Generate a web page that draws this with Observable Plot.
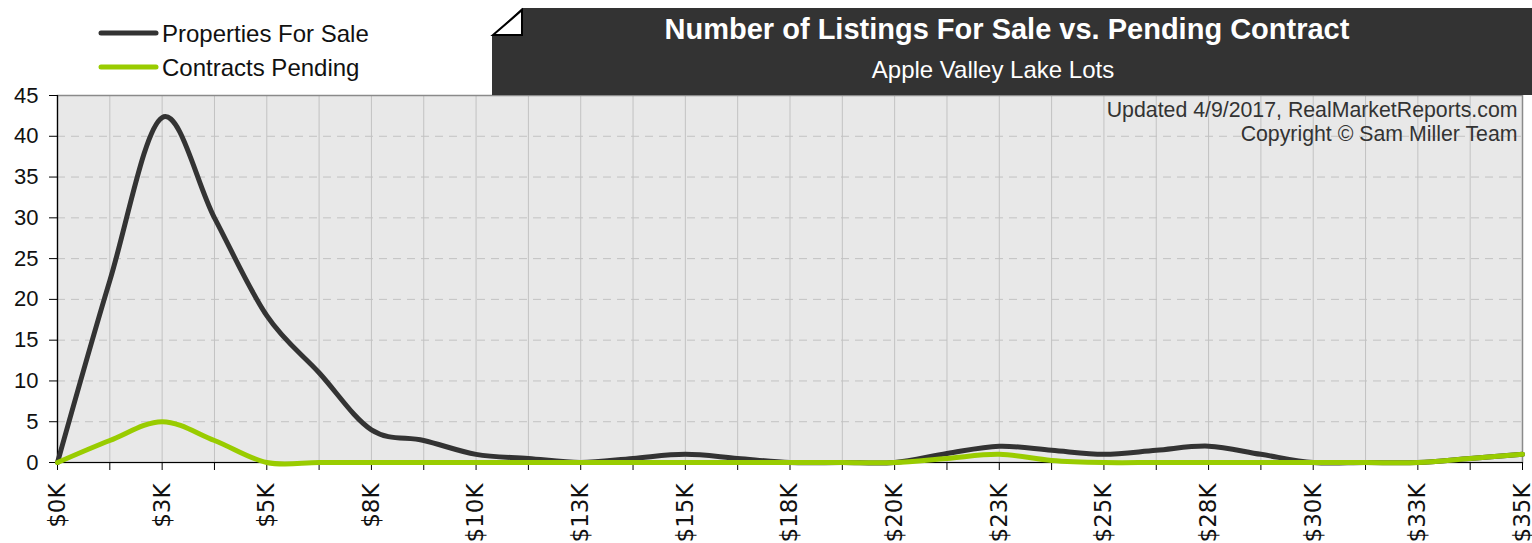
<!DOCTYPE html>
<html>
<head>
<meta charset="utf-8">
<script src="https://cdn.jsdelivr.net/npm/d3@7"></script>
<script src="https://cdn.jsdelivr.net/npm/@observablehq/plot@0.6"></script>
<style>
  html, body { margin: 0; padding: 0; background: #fff; }
  #wrap { position: relative; width: 1532px; height: 543px; overflow: hidden; }
  #header { position: absolute; left: 0; top: 0; }
  #chart { position: absolute; left: 0; top: 0; }
</style>
</head>
<body>
<div id="wrap">
  <div id="chart"></div>
  <svg id="header" width="1532" height="96" xmlns="http://www.w3.org/2000/svg"></svg>
</div>
<script>
// ---- data ----
const prices = [0, 1.25, 2.5, 3.75, 5, 6.25, 7.5, 8.75, 10, 11.25, 12.5, 13.75, 15, 16.25, 17.5,
                18.75, 20, 21.25, 22.5, 23.75, 25, 26.25, 27.5, 28.75, 30, 31.25, 32.5, 33.75, 35];
const forSale = [0, 22.3, 42.3, 30, 18, 11, 4, 2.7, 1, 0.5, 0, 0.5, 1, 0.5, 0,
                 0, 0, 1.1, 2, 1.5, 1, 1.5, 2, 1, 0, 0, 0, 0.5, 1];
const pending = [0, 2.7, 5, 2.7, 0, 0, 0, 0, 0, 0, 0, 0, 0, 0, 0,
                 0, 0, 0.5, 1, 0.25, 0, 0, 0, 0, 0, 0, 0, 0.5, 1];
const labelPrices = [0, 2.5, 5, 7.5, 10, 12.5, 15, 17.5, 20, 22.5, 25, 27.5, 30, 32.5, 35];
const tickLabels = ["$0K", "$3K", "$5K", "$8K", "$10K", "$13K", "$15K", "$18K", "$20K",
                    "$23K", "$25K", "$28K", "$30K", "$33K", "$35K"];
const yTicks = [0, 5, 10, 15, 20, 25, 30, 35, 40, 45];
const seriesNames = ["Properties For Sale", "Contracts Pending"];
const seriesColors = ["#333333", "#99cc00"];
const titleText = "Number of Listings For Sale vs. Pending Contract";
const subtitleText = "Apple Valley Lake Lots";
const noteLines = ["Updated 4/9/2017, RealMarketReports.com", "Copyright \u00A9 Sam Miller Team"];

const saleRows = prices.map((p, i) => ({price: p, value: forSale[i]}));
const pendRows = prices.map((p, i) => ({price: p, value: pending[i]}));

const sans = "'Liberation Sans', Arial, sans-serif";

const chart = Plot.plot({
  width: 1532,
  height: 543,
  marginLeft: 57,
  marginRight: 10,
  marginTop: 95,
  marginBottom: 81,
  x: {domain: [0, 35]},
  y: {domain: [0, 45]},
  style: {fontFamily: sans, color: "#111", background: "transparent", overflow: "visible"},
  marks: [
    Plot.frame({fill: "#e8e8e8", stroke: null}),
    Plot.gridX(prices, {stroke: "#c2c2c2", strokeOpacity: 1, strokeWidth: 1}),
    Plot.gridY(yTicks.filter(d => d > 0), {stroke: "#c2c2c2", strokeOpacity: 1, strokeWidth: 1, strokeDasharray: "8,6"}),
    Plot.frame({stroke: "#8a8a8a", strokeWidth: 1.5, fill: null}),
    Plot.ruleX([0], {stroke: "#000", strokeWidth: 1.2}),
    Plot.ruleY([0], {stroke: "#000", strokeWidth: 1.2}),
    Plot.axisY(yTicks, {tickSize: 8, tickPadding: 11, fontSize: 22, label: null, stroke: "#000", fill: "#111"}),
    Plot.axisX(prices, {tickSize: 8, tickFormat: () => "", label: null, stroke: "#000"}),
    Plot.axisX(labelPrices, {
      tickSize: 0, tickPadding: 21, tickRotate: -90, label: null,
      tickFormat: d => tickLabels[labelPrices.indexOf(d)],
      fontFamily: "'DejaVu Sans', sans-serif", fontSize: 23, fill: "#111"
    }),
    Plot.line(saleRows, {x: "price", y: "value", stroke: seriesColors[0], strokeWidth: 5, curve: "cardinal", tension: 0}),
    Plot.line(pendRows, {x: "price", y: "value", stroke: seriesColors[1], strokeWidth: 5, curve: "cardinal", tension: 0}),
    Plot.text([noteLines.join("\n")], {
      frameAnchor: "top-right", textAnchor: "end", lineAnchor: "top",
      dx: -5, dy: 5, fontSize: 21.3, lineHeight: 1.12, fill: "#333", fontFamily: sans
    })
  ]
});
document.getElementById("chart").appendChild(chart);

// ---- header: legend + title box ----
const hdr = d3.select("#header");
const legendY = [33, 67];
seriesNames.forEach((name, i) => {
  hdr.append("line").attr("x1", 101).attr("x2", 156).attr("y1", legendY[i]).attr("y2", legendY[i])
    .attr("stroke", seriesColors[i]).attr("stroke-width", 5).attr("stroke-linecap", "round");
  hdr.append("text").attr("x", 162).attr("y", legendY[i] + 9)
    .attr("font-family", sans).attr("font-size", 24).attr("fill", "#111").text(name);
});
hdr.append("path").attr("d", "M492,36 L522,8 L1532,8 L1532,95 L492,95 Z").attr("fill", "#333333");
hdr.append("path").attr("d", "M493,35 L522,10 L522,35 Z").attr("fill", "#fff")
  .attr("stroke", "#000").attr("stroke-width", 2).attr("stroke-linejoin", "miter");
hdr.append("text").attr("x", 1007).attr("y", 39).attr("text-anchor", "middle")
  .attr("font-family", sans).attr("font-weight", "bold").attr("font-size", 29).attr("fill", "#fff")
  .text(titleText);
hdr.append("text").attr("x", 993).attr("y", 78).attr("text-anchor", "middle")
  .attr("font-family", sans).attr("font-size", 24).attr("fill", "#fff")
  .text(subtitleText);
</script>
</body>
</html>
